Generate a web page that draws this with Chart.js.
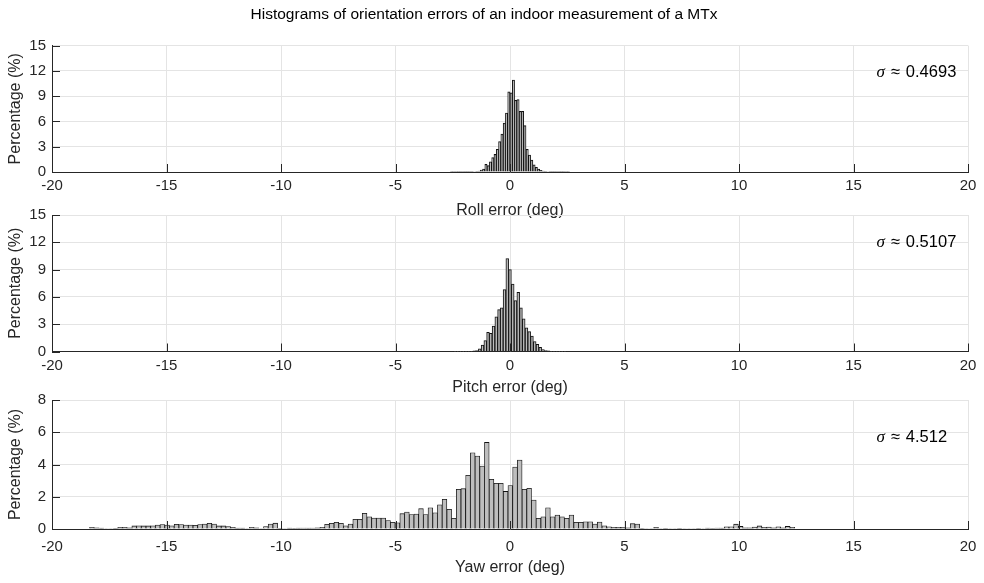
<!DOCTYPE html>
<html>
<head>
<meta charset="utf-8">
<script src="https://cdn.jsdelivr.net/npm/chart.js@4.4.1/dist/chart.umd.min.js"></script>
<style>
    body { margin: 0; background: #fff; }
    #wrap { position: relative; width: 984px; height: 583px; }
    canvas { position: absolute; left: 0; }
</style>
</head>
<body>
<div id="wrap">
    <canvas id="rollChart" width="984" height="224" style="top:0px"></canvas>
    <canvas id="pitchChart" width="984" height="211" style="top:190px"></canvas>
    <canvas id="yawChart" width="984" height="203" style="top:380px"></canvas>
</div>
<script>
const mainTitle = 'Histograms of orientation errors of an indoor measurement of a MTx';
const xTicks = [-20, -15, -10, -5, 0, 5, 10, 15, 20];

// histogram bins: left edge of first bin, bin width, percentage per bin
const rollBinStart = -2.6;
const rollBinWidth = 0.1;
const rollPercent = [
    0.01, 0.01, 0.01, 0.02, 0.02, 0.02, 0.03, 0.03, 0.04, 0.05, 0.06, 0.08, 0.12, 0.22,
    0.35, 0.9, 0.75, 1.2, 1.7, 2.1, 2.7, 3.6, 4.5, 5.8, 7.0, 9.5, 9.4,
    10.9,
    8.5, 8.6, 7.2, 7.2, 5.5, 2.7, 2.0, 1.4, 0.85, 0.55, 0.35, 0.2, 0.12, 0.08,
    0.06, 0.05, 0.04, 0.03, 0.03, 0.02, 0.02, 0.02, 0.01, 0.01
];
const rollSigma = '0.4693';

const pitchBinStart = -2.46;
const pitchBinWidth = 0.12;
const pitchPercent = [
    0.01, 0.01, 0.02, 0.02, 0.03, 0.03, 0.04, 0.06, 0.1,
    0.3, 0.7, 1.2, 2.1, 2.0, 2.8, 3.8, 4.6, 4.8, 6.8,
    10.2,
    9.0, 7.4, 5.6, 6.5, 4.8, 3.6, 2.6, 2.2, 1.7, 1.1, 0.8, 0.45, 0.2,
    0.1, 0.06, 0.04, 0.03, 0.03, 0.02, 0.01, 0.01
];
const pitchSigma = '0.5107';

const yawBinStart = -18.36;
const yawBinWidth = 0.2053;
const yawPercent = [
    0.1, 0.08, 0.05, 0.03, 0.03, 0.04, 0.1, 0.1, 0.08, 0.19,
    0.2, 0.19, 0.19, 0.2, 0.25, 0.27, 0.25, 0.2, 0.29, 0.27,
    0.25, 0.25, 0.23, 0.27, 0.31, 0.35, 0.31, 0.19, 0.19, 0.15,
    0.1, 0.05, 0.05, 0.03, 0.1, 0.08, 0.03, 0.15, 0.31, 0.36,
    0.04, 0.03, 0.05, 0.04, 0.05, 0.06, 0.05, 0.06, 0.08, 0.1,
    0.29, 0.35, 0.41, 0.35, 0.2, 0.31, 0.6, 0.6, 0.97, 0.76,
    0.68, 0.68, 0.68, 0.52, 0.41, 0.39, 0.95, 1.05, 0.89, 0.93,
    1.26, 0.89, 1.32, 1.01, 1.5, 1.84, 1.22, 0.66, 2.46, 2.5,
    3.33, 4.73, 4.52, 3.9, 5.37,
    3.08, 2.83, 2.83, 2.33, 2.7, 3.84, 4.28, 2.46, 2.52, 1.8,
    0.66, 0.76, 1.32, 0.76, 0.87, 0.76, 0.66, 0.87, 0.41, 0.41,
    0.45, 0.45, 0.31, 0.43, 0.2, 0.14, 0.1, 0.1, 0.1, 0.08,
    0.33, 0.31, 0.04,
    0.03, 0.03, 0.1, 0.03, 0.02, 0.03, 0.03, 0.02, 0.03, 0.03,
    0.03, 0.04, 0.03, 0.05, 0.04, 0.06, 0.05,
    0.14, 0.14, 0.3, 0.16, 0.08, 0.08, 0.12, 0.19, 0.1, 0.12,
    0.08, 0.14, 0.08, 0.16, 0.1
];
const yawSigma = '4.512';

const FONT = "'Liberation Sans', Arial, sans-serif";
const AXIS_COLOR = '#262626';

// inward tick marks (MATLAB style) and the sigma note
const matlabExtras = {
    id: 'matlabExtras',
    afterDraw(chart, args, opts) {
        const { ctx, chartArea, scales } = chart;
        ctx.save();
        ctx.strokeStyle = AXIS_COLOR;
        ctx.lineWidth = 1;
        ctx.beginPath();
        scales.x.ticks.forEach(t => {
            const px = Math.round(scales.x.getPixelForValue(t.value)) + 0.5;
            ctx.moveTo(px, chartArea.bottom);
            ctx.lineTo(px, chartArea.bottom - 8);
        });
        scales.y.ticks.forEach(t => {
            const py = Math.round(scales.y.getPixelForValue(t.value)) + 0.5;
            ctx.moveTo(chartArea.left, py);
            ctx.lineTo(chartArea.left + 8, py);
        });
        ctx.stroke();

        if (opts.sigma) {
            let x = scales.x.getPixelForValue(opts.atX);
            const y = scales.y.getPixelForValue(opts.atY);
            ctx.fillStyle = '#000';
            ctx.textBaseline = 'middle';
            ctx.textAlign = 'left';
            ctx.font = "italic 17px 'Liberation Serif', serif";
            ctx.fillText('σ', x, y);
            x += ctx.measureText('σ').width + 6;
            ctx.font = '16.5px ' + FONT;
            ctx.fillText('≈', x, y);
            x += ctx.measureText('≈').width + 6;
            ctx.fillText(opts.sigma, x, y);
        }
        ctx.restore();
    }
};

function binCenters(start, width, values) {
    return values.map((v, i) => ({ x: start + width * (i + 0.5), y: v }));
}

function renderHistogram(canvasId, cfg) {
    const ctx = document.getElementById(canvasId).getContext('2d');

    new Chart(ctx, {
        type: 'bar',
        data: {
            datasets: [{
                data: binCenters(cfg.binStart, cfg.binWidth, cfg.values),
                backgroundColor: 'rgb(190, 190, 190)',
                borderColor: '#111',
                borderWidth: cfg.edge,
                barPercentage: 1,
                categoryPercentage: 1
            }]
        },
        options: {
            responsive: false,
            animation: false,
            layout: {
                padding: { top: cfg.padTop, right: 16, left: 0, bottom: 0 }
            },
            scales: {
                x: {
                    type: 'linear',
                    min: -20,
                    max: 20,
                    offset: false,
                    afterBuildTicks: axis => {
                        axis.ticks = xTicks.map(v => ({ value: v }));
                    },
                    afterFit: axis => {
                        axis.height = cfg.xAxisHeight;
                        axis.paddingLeft = 0;
                        axis.paddingRight = 0;
                    },
                    grid: { offset: false, color: '#e4e4e4', drawTicks: false },
                    border: { color: AXIS_COLOR },
                    ticks: {
                        padding: cfg.tickPad,
                        color: AXIS_COLOR,
                        maxRotation: 0,
                        font: { family: FONT, size: 15 }
                    },
                    title: {
                        display: true,
                        text: cfg.xLabel,
                        color: AXIS_COLOR,
                        padding: { top: 0, bottom: cfg.titlePad },
                        font: { family: FONT, size: 16 }
                    }
                },
                y: {
                    min: 0,
                    max: cfg.yMax,
                    afterFit: axis => {
                        axis.width = 52;
                        axis.paddingTop = 0;
                        axis.paddingBottom = 0;
                    },
                    grid: { color: '#e4e4e4', drawTicks: false },
                    border: { color: AXIS_COLOR },
                    ticks: {
                        stepSize: cfg.yStep,
                        padding: 6,
                        color: AXIS_COLOR,
                        font: { family: FONT, size: 15 }
                    },
                    title: {
                        display: true,
                        text: 'Percentage (%)',
                        color: AXIS_COLOR,
                        padding: { top: 6, bottom: 0 },
                        font: { family: FONT, size: 16 }
                    }
                }
            },
            plugins: {
                legend: { display: false },
                tooltip: { enabled: false },
                title: {
                    display: !!cfg.title,
                    text: cfg.title,
                    color: '#000',
                    padding: { top: 5, bottom: 22 },
                    font: { family: FONT, size: 15.5, weight: 'normal' }
                },
                matlabExtras: { sigma: cfg.sigma, atX: 16, atY: cfg.sigmaY }
            }
        },
        plugins: [matlabExtras]
    });
}

renderHistogram('rollChart', {
    title: mainTitle, padTop: 0, xAxisHeight: 52, tickPad: 5, titlePad: 4, edge: 1,
    binStart: rollBinStart, binWidth: rollBinWidth, values: rollPercent,
    xLabel: 'Roll error (deg)', yMax: 15, yStep: 3, sigma: rollSigma, sigmaY: 11.8
});

renderHistogram('pitchChart', {
    title: '', padTop: 25, xAxisHeight: 49.5, tickPad: 5, titlePad: 4, edge: 1,
    binStart: pitchBinStart, binWidth: pitchBinWidth, values: pitchPercent,
    xLabel: 'Pitch error (deg)', yMax: 15, yStep: 3, sigma: pitchSigma, sigmaY: 12
});

renderHistogram('yawChart', {
    title: '', padTop: 20, xAxisHeight: 54, tickPad: 9, titlePad: 6, edge: 0.8,
    binStart: yawBinStart, binWidth: yawBinWidth, values: yawPercent,
    xLabel: 'Yaw error (deg)', yMax: 8, yStep: 2, sigma: yawSigma, sigmaY: 5.7
});
</script>
</body>
</html>
